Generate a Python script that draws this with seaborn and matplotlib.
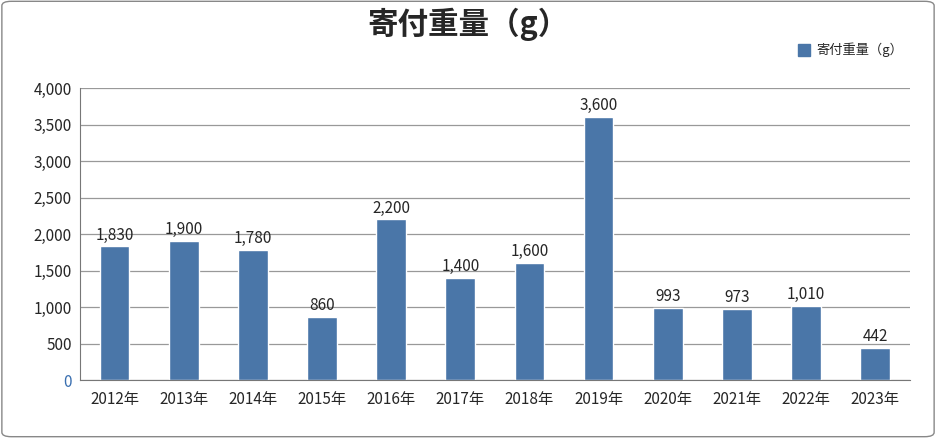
import matplotlib
matplotlib.use('Agg')
import matplotlib.pyplot as plt
import seaborn as sns
import pandas as pd
from matplotlib.patches import FancyBboxPatch, Rectangle

years = ['2012年', '2013年', '2014年', '2015年', '2016年', '2017年',
         '2018年', '2019年', '2020年', '2021年', '2022年', '2023年']
weights = [1830, 1900, 1780, 860, 2200, 1400, 1600, 3600, 993, 973, 1010, 442]
y_ticks = [0, 500, 1000, 1500, 2000, 2500, 3000, 3500, 4000]

sns.set_style('white')
plt.rcParams['font.family'] = ['Noto Sans CJK JP', 'DejaVu Sans']

df = pd.DataFrame({'year': years, 'weight': weights})
bar_color = '#4a76a8'

fig = plt.figure(figsize=(9.36, 4.38), dpi=100)
ax = fig.add_axes([0.0855, 0.1324, 0.8865, 0.6666])
sns.barplot(data=df, x='year', y='weight', color=bar_color, width=0.43,
            saturation=1, ax=ax)

ax.set_ylim(0, 4000)
ax.set_yticks(y_ticks)
ax.set_yticklabels([f'{v:,}' for v in y_ticks], fontsize=11)
ax.get_yticklabels()[0].set_color('#3a6fb0')
ax.yaxis.grid(True, color='#999999', linewidth=0.9)
ax.set_axisbelow(True)
ax.set_xlim(-0.5, len(years) - 0.5)
ax.set_xlabel('')
ax.set_ylabel('')
ax.tick_params(axis='x', labelsize=11, length=0, pad=8)
ax.tick_params(axis='y', length=0, pad=6)
# tick marks between categories
ax.set_xticks([i + 0.5 for i in range(-1, len(years))], minor=True)
ax.tick_params(axis='x', which='minor', length=6, color='#777777')
for s in ['top', 'right']:
    ax.spines[s].set_visible(False)
ax.spines['left'].set_color('#777777')
ax.spines['bottom'].set_color('#777777')

for i, v in enumerate(weights):
    ax.text(i, v + 40, f'{v:,}', ha='center', va='bottom', fontsize=11)

fig.text(0.5, 0.945, '寄付重量（g）', ha='center', va='center',
         fontsize=22, fontweight='bold')
fig.patches.append(Rectangle((0.853, 0.872), 0.0125, 0.027, transform=fig.transFigure,
                             color=bar_color, figure=fig))
fig.text(0.872, 0.886, '寄付重量（g）', ha='left', va='center', fontsize=9.5)

fig.patches.append(FancyBboxPatch((0.002, 0.003), 0.996, 0.994,
                                  boxstyle='round,pad=0,rounding_size=0.01',
                                  transform=fig.transFigure, fill=False,
                                  edgecolor='#888888', linewidth=1, figure=fig))

fig.savefig('out.png', dpi=100)
